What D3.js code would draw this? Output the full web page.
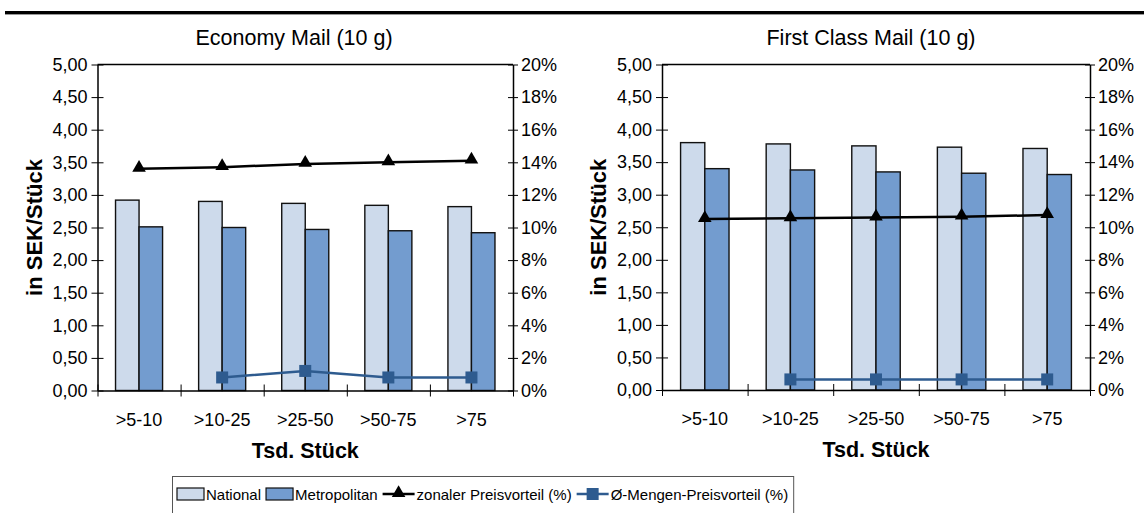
<!DOCTYPE html>
<html><head><meta charset="utf-8">
<script src="https://cdn.jsdelivr.net/npm/d3@7"></script>
<style>body{margin:0;background:#fff}svg{display:block;font-family:"Liberation Sans",Arial,sans-serif}</style>
</head><body>
<svg id="c" width="1144" height="513"></svg>
<script>
const categories = [">5-10", ">10-25", ">25-50", ">50-75", ">75"];
const yTicksLeft = [0,0.5,1,1.5,2,2.5,3,3.5,4,4.5,5];
const yTicksRight = [0,2,4,6,8,10,12,14,16,18,20];
const economyNational = [2.92, 2.90, 2.87, 2.84, 2.82];
const economyMetro = [2.51, 2.50, 2.47, 2.45, 2.42];
const economyZonal = [13.6, 13.7, 13.9, 14.0, 14.1];
const economyMengen = [null, 0.8, 1.2, 0.8, 0.8];
const firstNational = [3.80, 3.78, 3.75, 3.73, 3.71];
const firstMetro = [3.40, 3.38, 3.35, 3.33, 3.31];
const firstZonal = [10.5, 10.55, 10.6, 10.65, 10.75];
const firstMengen = [null, 0.65, 0.65, 0.65, 0.65];
const titles = ["Economy Mail (10 g)", "First Class Mail (10 g)"];
const yTitle = "in SEK/Stück", xTitle = "Tsd. Stück";
const legendLabels = ["National", "Metropolitan", "zonaler Preisvorteil (%)", "Ø-Mengen-Preisvorteil (%)"];

const C_NAT = "#CDDAEB", C_MET = "#739CCF", C_MEN = "#2E5B8F";
const FONT = "Liberation Sans, Arial, sans-serif";
const svg = d3.select("#c");
const fmt = d => d.toFixed(2).replace(".", ",");

// top rule
svg.append("rect").attr("x",5).attr("y",11).attr("width",1139).attr("height",3).attr("fill","#000");
svg.append("line").attr("x1",5).attr("x2",1144).attr("y1",14.5).attr("y2",14.5).attr("stroke","#999").attr("stroke-width",1);

function panel(p){
  const {x0,x1,y0,y1,nat,met,zon,men,title,ytx,tx} = p;
  const g = svg.append("g");
  const x = d3.scaleBand().domain(categories).range([x0,x1]).padding(0);
  const y = d3.scaleLinear().domain([0,5]).range([y1,y0]);
  const y2 = d3.scaleLinear().domain([0,20]).range([y1,y0]);
  const bw = x.bandwidth()*0.283;
  categories.forEach((c,i)=>{
    const cx = x(c)+x.bandwidth()/2;
    g.append("rect").attr("x",cx-bw).attr("y",y(nat[i])).attr("width",bw).attr("height",y1-y(nat[i]))
      .attr("fill",C_NAT).attr("stroke","#111").attr("stroke-width",1.4);
    g.append("rect").attr("x",cx).attr("y",y(met[i])).attr("width",bw).attr("height",y1-y(met[i]))
      .attr("fill",C_MET).attr("stroke","#111").attr("stroke-width",1.4);
  });
  g.append("line").attr("x1",x0).attr("x2",x1).attr("y1",y0).attr("y2",y0).attr("stroke","#000").attr("stroke-width",1.3);
  const la = g.append("g").attr("transform",`translate(${x0},0)`)
    .call(d3.axisLeft(y).tickValues(yTicksLeft).tickFormat(fmt).tickSizeInner(6).tickSizeOuter(0).tickPadding(5));
  la.selectAll(".tick line").attr("x2",6).attr("x1",-6);
  const ra = g.append("g").attr("transform",`translate(${x1},0)`)
    .call(d3.axisRight(y2).tickValues(yTicksRight).tickFormat(d=>d+"%").tickSizeInner(5).tickSizeOuter(0).tickPadding(5));
  ra.selectAll(".tick line").attr("x1",-5).attr("x2",5);
  const xa = d3.scaleLinear().domain([0,categories.length]).range([x0,x1]);
  const ba = g.append("g").attr("transform",`translate(0,${y1})`)
    .call(d3.axisBottom(xa).tickValues(d3.range(categories.length+1)).tickFormat("").tickSizeInner(6).tickSizeOuter(0));
  ba.selectAll(".tick line").attr("y1",-6).attr("y2",6);
  [la,ra,ba].forEach(a=>{a.attr("font-size",18).attr("font-family",FONT);
    a.select(".domain").attr("stroke","#000").attr("stroke-width",1.5);
    a.selectAll(".tick line").attr("stroke","#000").attr("stroke-width",1);
    a.selectAll("text").attr("fill","#000");});
  ra.selectAll("text").attr("x",8);
  la.selectAll("text").attr("x",-10);
  g.selectAll(".cl").data(categories).enter().append("text")
    .attr("x",d=>x(d)+x.bandwidth()/2).attr("y",y1+35).attr("text-anchor","middle").attr("font-size",18).text(d=>d);
  const pts = categories.map((c,i)=>({x:x(c)+x.bandwidth()/2, v:zon[i]}));
  g.append("path").datum(pts).attr("d",d3.line().x(d=>d.x).y(d=>y2(d.v))).attr("fill","none").attr("stroke","#000").attr("stroke-width",2.5);
  g.selectAll(".tri").data(pts).enter().append("path")
    .attr("d",d3.symbol(d3.symbolTriangle,80)).attr("transform",d=>`translate(${d.x},${y2(d.v)-1})`).attr("fill","#000");
  const mp = categories.map((c,i)=>({x:x(c)+x.bandwidth()/2, v:men[i]})).filter(d=>d.v!=null);
  g.append("path").datum(mp).attr("d",d3.line().x(d=>d.x).y(d=>y2(d.v))).attr("fill","none").attr("stroke",C_MEN).attr("stroke-width",2.5);
  g.selectAll(".sq").data(mp).enter().append("rect")
    .attr("x",d=>d.x-6).attr("y",d=>y2(d.v)-6).attr("width",12).attr("height",12).attr("fill",C_MEN);
  g.append("text").attr("x",tx).attr("y",45).attr("text-anchor","middle").attr("font-size",21.5).text(title);
  g.append("text").attr("transform",`translate(${ytx},${(y0+y1)/2}) rotate(-90)`).attr("text-anchor","middle")
    .attr("font-size",22).attr("font-weight","bold").text(yTitle);
  g.append("text").attr("x",(x0+x1)/2).attr("y",y1+67).attr("text-anchor","middle").attr("font-size",21.5).attr("font-weight","bold").text(xTitle);
}

panel({x0:97.5,x1:513,y0:64.5,y1:390.5,nat:economyNational,met:economyMetro,zon:economyZonal,men:economyMengen,title:titles[0],ytx:42,tx:294});
panel({x0:662,x1:1090,y0:64.5,y1:390,nat:firstNational,met:firstMetro,zon:firstZonal,men:firstMengen,title:titles[1],ytx:606,tx:871});

// legend
const lg = svg.append("g");
const ly = 494;
let cx = 177;
legendLabels.forEach((lab,i)=>{
  if(i<2){
    lg.append("rect").attr("x",cx).attr("y",ly-6).attr("width",27).attr("height",12)
      .attr("fill",i===0?C_NAT:C_MET).attr("stroke","#111").attr("stroke-width",1.2);
    cx += 29;
  } else {
    const col = i===2?"#000":C_MEN;
    lg.append("line").attr("x1",cx).attr("x2",cx+32).attr("y1",ly).attr("y2",ly).attr("stroke",col).attr("stroke-width",2.5);
    if(i===2) lg.append("path").attr("d",d3.symbol(d3.symbolTriangle,80)).attr("transform",`translate(${cx+16},${ly-1})`).attr("fill","#000");
    else lg.append("rect").attr("x",cx+10).attr("y",ly-6).attr("width",12).attr("height",12).attr("fill",C_MEN);
    cx += 34;
  }
  const t = lg.append("text").attr("x",cx).attr("y",ly+6).attr("font-size",15).text(lab);
  cx += t.node().getComputedTextLength()+5;
});
lg.insert("rect",":first-child").attr("x",172.5).attr("y",476.5).attr("width",cx-172).attr("height",40)
  .attr("fill","#fff").attr("stroke","#555").attr("stroke-width",1);
</script>
</body></html>
